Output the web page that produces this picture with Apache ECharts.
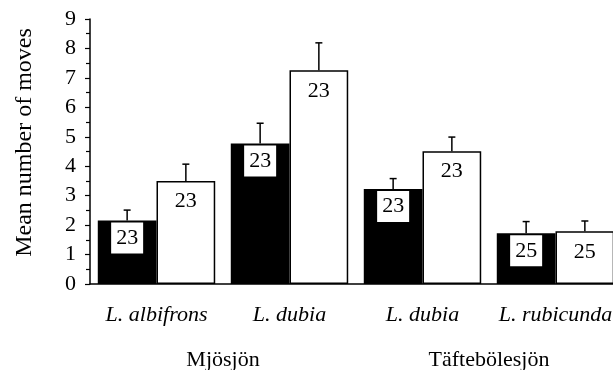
<!DOCTYPE html>
<html>
<head>
<meta charset="utf-8">
<script src="https://cdn.jsdelivr.net/npm/echarts@6/dist/echarts.min.js"></script>
<style>html,body{margin:0;padding:0;background:#fff}#c{width:613px;height:370px}</style>
</head>
<body>
<div id="c"></div>
<script>
var categories = ['L. albifrons', 'L. dubia', 'L. dubia', 'L. rubicunda'];
var lakes = ['Mjösjön', 'Täftebölesjön'];
var yTicks = [0, 1, 2, 3, 4, 5, 6, 7, 8, 9];
var blackMeans = [2.16, 4.77, 3.23, 1.72];
var blackSE = [0.35, 0.69, 0.35, 0.40];
var whiteMeans = [3.50, 7.26, 4.51, 1.79];
var whiteSE = [0.57, 0.93, 0.48, 0.35];
var blackN = ['23', '23', '23', '25'];
var whiteN = ['23', '23', '23', '25'];

var FONT = '"Liberation Serif", "Times New Roman", Times, serif';
var catGap = 0.117;

function errSeries(means, se, side) {
  return {
    type: 'custom',
    xAxisIndex: 0,
    z: 5,
    data: means.map(function (m, i) { return [i, m, m + se[i]]; }),
    renderItem: function (params, api) {
      var idx = api.value(0);
      var base = api.coord([idx, api.value(1)]);
      var top = api.coord([idx, api.value(2)]);
      var bw = api.size([1, 0])[0] * (1 - catGap) / 2;
      var x = base[0] + side * bw / 2;
      var cap = 3.5;
      return {
        type: 'group',
        children: [
          { type: 'line', shape: { x1: x, y1: base[1], x2: x, y2: top[1] }, style: { stroke: '#000', lineWidth: 1.5 } },
          { type: 'line', shape: { x1: x - cap, y1: top[1], x2: x + cap, y2: top[1] }, style: { stroke: '#000', lineWidth: 1.5 } }
        ]
      };
    }
  };
}

var chart = echarts.init(document.getElementById('c'), null, { renderer: 'canvas' });
chart.setOption({
  animation: false,
  backgroundColor: '#fff',
  grid: { left: 90, top: 19, width: 532, bottom: 86, containLabel: false, outerBoundsMode: 'none' },
  xAxis: [{
    type: 'category',
    data: categories,
    axisLine: { lineStyle: { color: '#000', width: 1.5 } },
    axisTick: { show: false },
    axisLabel: { interval: 0, color: '#000', fontFamily: FONT, fontSize: 22, fontStyle: 'italic', margin: 20 }
  }, {
    type: 'category',
    data: lakes,
    position: 'bottom',
    offset: 45,
    axisLine: { show: false },
    axisTick: { show: false },
    axisLabel: { interval: 0, color: '#000', fontFamily: FONT, fontSize: 22, margin: 20 }
  }],
  yAxis: {
    type: 'value',
    min: yTicks[0],
    max: yTicks[yTicks.length - 1],
    interval: 1,
    name: 'Mean number of moves',
    nameLocation: 'middle',
    nameGap: 53,
    nameTextStyle: { color: '#000', fontFamily: FONT, fontSize: 24, padding: [0, 0, 0, 18] },
    axisLine: { show: true, lineStyle: { color: '#000', width: 1.5 } },
    axisTick: { show: true, length: 5, lineStyle: { color: '#000', width: 1.2 } },
    minorTick: { show: true, splitNumber: 2, length: 4, lineStyle: { color: '#000', width: 1.2 } },
    splitLine: { show: false },
    axisLabel: { color: '#000', fontFamily: FONT, fontSize: 22, margin: 14 }
  },
  series: [{
    type: 'bar',
    data: blackMeans,
    barGap: '0%',
    barCategoryGap: (catGap * 100) + '%',
    itemStyle: { color: '#000', borderColor: '#000', borderWidth: 1.5 },
    label: {
      show: true,
      position: 'insideTop',
      distance: 2,
      formatter: function (p) { return blackN[p.dataIndex]; },
      color: '#000',
      fontFamily: FONT,
      fontSize: 22,
      lineHeight: 25,
      backgroundColor: '#fff',
      padding: [3, 5, 3, 5]
    }
  }, {
    type: 'bar',
    data: whiteMeans,
    itemStyle: { color: '#fff', borderColor: '#000', borderWidth: 1.5 },
    label: {
      show: true,
      position: 'insideTop',
      distance: 8,
      formatter: function (p) { return whiteN[p.dataIndex]; },
      color: '#000',
      fontFamily: FONT,
      fontSize: 22,
      lineHeight: 25
    }
  },
  errSeries(blackMeans, blackSE, -1),
  errSeries(whiteMeans, whiteSE, 1)
  ]
});
</script>
</body>
</html>
